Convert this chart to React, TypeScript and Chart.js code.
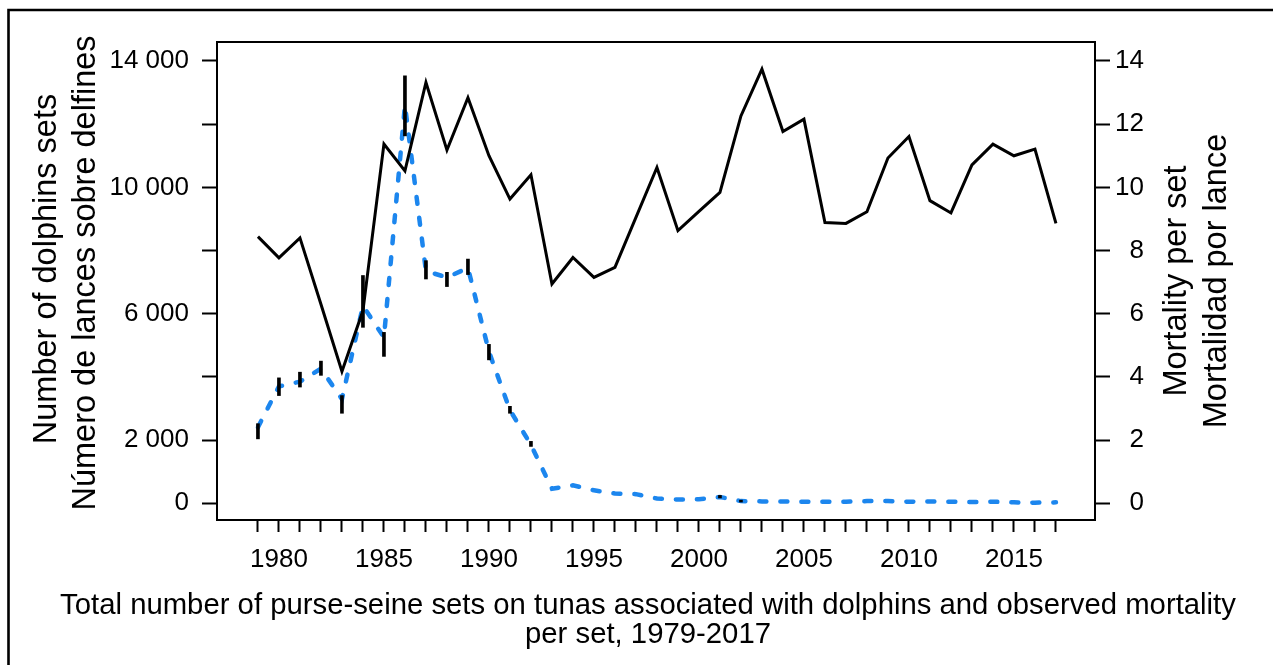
import React, { useEffect, useRef } from 'react';
import { Chart, registerables } from 'chart.js';

Chart.register(...registerables);

// ---------- data ----------
const years = [
  1979, 1980, 1981, 1982, 1983, 1984, 1985, 1986, 1987, 1988,
  1989, 1990, 1991, 1992, 1993, 1994, 1995, 1996, 1997, 1998,
  1999, 2000, 2001, 2002, 2003, 2004, 2005, 2006, 2007, 2008,
  2009, 2010, 2011, 2012, 2013, 2014, 2015, 2016, 2017,
];

// Number of dolphin sets (left axis)
const dolphinSets = [
  8440, 7770, 8400, 6300, 4170, 6100, 11370, 10520, 13320, 11180,
  12840, 11000, 9630, 10400, 6940, 7780, 7150, 7470, 9050, 10630,
  8630, 9240, 9840, 12260, 13740, 11770, 12160, 8890, 8860, 9230,
  10930, 11610, 9580, 9190, 10710, 11370, 11000, 11210, 8860,
];

// Mortality per set (right axis)
const mortalityPerSet = [
  2.41, 3.7, 3.85, 4.26, 3.3, 6.25, 5.25, 12.6, 7.35, 7.15,
  7.45, 4.8, 2.95, 1.85, 0.46, 0.57, 0.41, 0.31, 0.29, 0.15,
  0.12, 0.13, 0.2, 0.07, 0.06, 0.06, 0.05, 0.05, 0.05, 0.07,
  0.07, 0.05, 0.06, 0.05, 0.04, 0.05, 0.03, 0.02, 0.03,
];

// Range of mortality per set (black vertical bars)
const mortalityLow = [
  2.04, 3.41, 3.68, 4.05, 2.85, 5.57, 4.65, 11.63, 7.1, 6.86,
  7.24, 4.54, 2.85, 1.8, null, null, null, null, null, null,
  null, null, 0.17, 0.04, null, null, null, null, null, null,
  null, null, null, null, null, null, null, null, null,
];
const mortalityHigh = [
  2.52, 3.97, 4.15, 4.5, 3.41, 7.21, 5.41, 13.53, 7.68, 7.31,
  7.73, 5.03, 3.07, 1.96, null, null, null, null, null, null,
  null, null, 0.25, 0.1, null, null, null, null, null, null,
  null, null, null, null, null, null, null, null, null,
];

// ---------- ticks / labels ----------
const leftTickValues = [0, 2000, 4000, 6000, 8000, 10000, 12000, 14000];
const leftTickLabels = ['0', '2 000', '', '6 000', '', '10 000', '', '14 000'];
const rightTickValues = [0, 2, 4, 6, 8, 10, 12, 14];
const rightTickLabels = ['0', '2', '4', '6', '8', '10', '12', '14'];
const xLabelYears = [1980, 1985, 1990, 1995, 2000, 2005, 2010, 2015];

const leftTitle = ['Number of dolphins sets', 'Número de lances sobre delfines'];
const rightTitle = ['Mortality per set', 'Mortalidad por lance'];
const bottomTitle = [
  'Total number of purse-seine sets on tunas associated with dolphins and observed mortality',
  'per set, 1979-2017',
];

const FONT = '"Liberation Sans", Arial, Helvetica, sans-serif';
const BLUE = '#1C86EE';

const decorPlugin = {
  id: 'decor',
  afterDraw(chart: any) {
    const { ctx, chartArea: a } = chart;
    ctx.save();
    ctx.strokeStyle = '#000';
    ctx.lineWidth = 2;
    ctx.strokeRect(a.left, a.top, a.right - a.left, a.bottom - a.top);

    // outer frame (left + top)
    ctx.lineWidth = 2.6;
    ctx.beginPath();
    ctx.moveTo(8.5, 700);
    ctx.lineTo(8.5, 10);
    ctx.lineTo(1300, 10);
    ctx.stroke();

    ctx.fillStyle = '#000';
    ctx.textAlign = 'center';
    ctx.textBaseline = 'alphabetic';
    ctx.font = `32.5px ${FONT}`;
    const drawV = (t: string, x: number, y: number) => {
      ctx.save();
      ctx.translate(x, y);
      ctx.rotate(-Math.PI / 2);
      ctx.fillText(t, 0, 0);
      ctx.restore();
    };
    const cy = (a.top + a.bottom) / 2;
    drawV(leftTitle[0], 56, cy - 12);
    drawV(leftTitle[1], 95, cy - 8);
    drawV(rightTitle[0], 1185.5, cy);
    drawV(rightTitle[1], 1225.5, cy);

    ctx.font = `29.3px ${FONT}`;
    ctx.fillText(bottomTitle[0], 648, 614);
    ctx.fillText(bottomTitle[1], 648, 643);
    ctx.restore();
  },
};

export default function App() {
  const ref = useRef<HTMLCanvasElement | null>(null);

  useEffect(() => {
    if (!ref.current) return;
    const tickFont = { family: FONT, size: 26 };
    const chart = new Chart(ref.current, {
      type: 'line',
      data: {
        datasets: [
          {
            type: 'bar',
            label: 'range',
            data: years.map((yr, i) => ({
              x: yr,
              y: mortalityLow[i] == null ? null : [mortalityLow[i], mortalityHigh[i]],
            })) as any,
            yAxisID: 'y1',
            backgroundColor: '#000',
            borderWidth: 0,
            barThickness: 3,
            order: 0,
          } as any,
          {
            label: 'sets',
            data: years.map((yr, i) => ({ x: yr, y: dolphinSets[i] })),
            yAxisID: 'y',
            borderColor: '#000',
            borderWidth: 3,
            pointRadius: 0,
            tension: 0,
            fill: false,
            borderJoinStyle: 'miter',
            order: 1,
          },
          {
            label: 'mortality',
            data: years.map((yr, i) => ({ x: yr, y: mortalityPerSet[i] })),
            yAxisID: 'y1',
            borderColor: BLUE,
            borderWidth: 4.5,
            borderDash: [7, 14],
            borderCapStyle: 'round',
            pointRadius: 0,
            tension: 0,
            fill: false,
            order: 2,
          },
        ],
      },
      options: {
        animation: false,
        responsive: false,
        devicePixelRatio: 1,
        layout: { padding: { top: 42, left: 0, right: 129, bottom: 0 } },
        plugins: { legend: { display: false }, tooltip: { enabled: false }, title: { display: false } },
        scales: {
          x: {
            type: 'linear',
            min: 1977.05,
            max: 2018.86,
            bounds: 'data',
            offset: false,
            border: { display: false },
            grid: {
              display: true,
              drawOnChartArea: false,
              drawTicks: true,
              tickLength: 12,
              tickWidth: 2,
              tickColor: '#000',
              offset: false,
            },
            afterBuildTicks: (s: any) => {
              s.ticks = years.map((v) => ({ value: v }));
            },
            afterFit: (s: any) => {
              s.height = 145;
            },
            ticks: {
              autoSkip: false,
              maxRotation: 0,
              minRotation: 0,
              padding: 12,
              color: '#000',
              font: tickFont,
              callback: (v: any) => (xLabelYears.includes(Number(v)) ? String(v) : ''),
            },
          },
          y: {
            type: 'linear',
            position: 'left',
            min: -528.6,
            max: 14601,
            bounds: 'data',
            border: { display: false },
            grid: {
              drawOnChartArea: false,
              drawTicks: true,
              tickLength: 15,
              tickWidth: 2,
              tickColor: '#000',
            },
            afterBuildTicks: (s: any) => {
              s.ticks = leftTickValues.map((v) => ({ value: v }));
            },
            afterFit: (s: any) => {
              s.width = 217;
            },
            ticks: {
              padding: 13,
              color: '#000',
              font: tickFont,
              callback: (v: any) => {
                const i = leftTickValues.indexOf(Number(v));
                return i >= 0 ? leftTickLabels[i] : '';
              },
            },
          },
          y1: {
            type: 'linear',
            position: 'right',
            min: -0.5286,
            max: 14.601,
            bounds: 'data',
            border: { display: false },
            grid: {
              drawOnChartArea: false,
              drawTicks: true,
              tickLength: 15,
              tickWidth: 2,
              tickColor: '#000',
            },
            afterBuildTicks: (s: any) => {
              s.ticks = rightTickValues.map((v) => ({ value: v }));
            },
            afterFit: (s: any) => {
              s.width = 49;
            },
            ticks: {
              padding: 8,
              crossAlign: 'far',
              color: '#000',
              font: tickFont,
              callback: (v: any) => {
                const i = rightTickValues.indexOf(Number(v));
                return i >= 0 ? rightTickLabels[i] : '';
              },
            },
          },
        },
      } as any,
      plugins: [decorPlugin],
    });
    return () => chart.destroy();
  }, []);

  return (
    <div
      style={{
        position: 'fixed',
        left: 0,
        top: 0,
        width: 1273,
        height: 665,
        background: '#fff',
        overflow: 'hidden',
      }}
    >
      <canvas ref={ref} width={1273} height={665} style={{ display: 'block' }} />
    </div>
  );
}
